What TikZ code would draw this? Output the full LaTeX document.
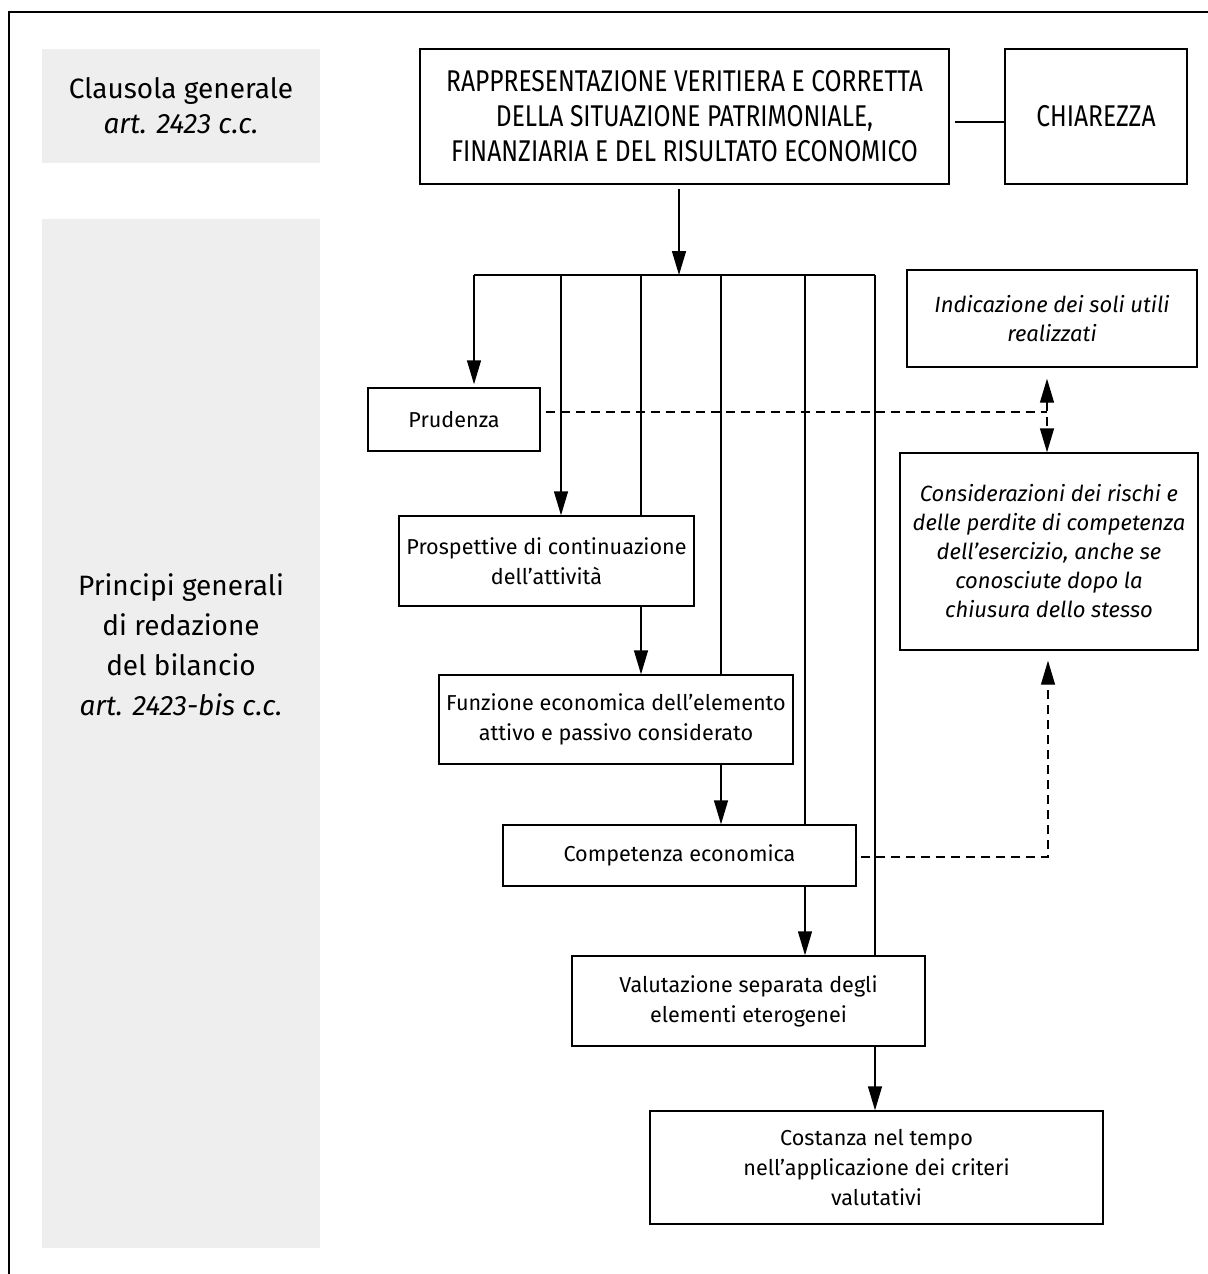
\documentclass[tikz,border=0pt]{standalone}
\usepackage{fontspec}
\setmainfont{Fira Sans}
\newfontfamily\capsfont[FakeStretch=0.82]{Fira Sans}
\usepackage{tikz}
\usetikzlibrary{arrows.meta, positioning, calc}
\definecolor{panelgray}{HTML}{EEEEEE}

\begin{document}
\begin{tikzpicture}[x=0.5pt, y=-0.5pt,
    ftip/.tip={Triangle[length=12pt, width=7pt]},
    panel/.style={fill=panelgray, draw=none, minimum width=139pt, minimum height=#1, inner sep=0pt},
    box/.style={draw, line width=0.7pt, align=center, inner sep=2pt, font=\fontsize{10.8}{15}\selectfont},
    ibox/.style={box, font=\fontsize{11}{14.5}\selectfont\itshape},
    capsbox/.style={box, font=\capsfont\fontsize{15}{17.5}\selectfont},
    flow/.style={-ftip, line width=0.7pt},
    link/.style={line width=0.7pt},
    dlink/.style={line width=0.7pt, dash pattern=on 4.5pt off 3pt},
]
    \useasboundingbox (0,0) rectangle (1208,1274);
    \draw[link] (1208,12) -- (9,12) -- (9,1274);

    % === left panels ===
    \node[panel=57pt, align=center, font=\fontsize{14}{17.5}\selectfont] (clausola) at (181,106)
        {Clausola generale\\\itshape art. 2423 c.c.};
    \node[panel=514.5pt] (principi) at (181,733.5) {};
    \node[align=center, font=\fontsize{14}{20}\selectfont] (principitxt) at (181,645)
        {Principi generali\\di redazione\\del bilancio\\\itshape art. 2423-bis c.c.};

    % === top row ===
    \node[capsbox, minimum width=264.5pt, minimum height=67.5pt] (rvc) at (684.5,116.5)
        {RAPPRESENTAZIONE VERITIERA E CORRETTA\\DELLA SITUAZIONE PATRIMONIALE,\\FINANZIARIA E DEL RISULTATO ECONOMICO};
    \node[capsbox, minimum width=91pt, minimum height=67.5pt] (chiar) at (1096,116.5) {CHIAREZZA};
    \draw[link, shorten <=2.5pt] ([yshift=-2.75pt]rvc.east) -- ([yshift=-2.75pt]chiar.west);

    % === principles ===
    \node[box, minimum width=86pt, minimum height=31.5pt] (prud) at (454,419.5) {Prudenza};
    \node[box, minimum width=147.5pt, minimum height=45pt] (prosp) at (546.5,561)
        {Prospettive di continuazione\\dell’attività};
    \node[box, minimum width=177pt, minimum height=44.5pt] (funz) at (616,719.5)
        {Funzione economica dell’elemento\\attivo e passivo considerato};
    \node[box, minimum width=176.5pt, minimum height=30.5pt] (comp) at (679.5,855.5) {Competenza economica};
    \node[box, minimum width=176.5pt, minimum height=45pt] (valut) at (748.5,1001)
        {Valutazione separata degli\\elementi eterogenei};
    \node[box, minimum width=226.5pt, minimum height=56.5pt] (cost) at (876.5,1167.5)
        {Costanza nel tempo\\nell’applicazione dei criteri\\valutativi};

    % === prudenza details ===
    \node[ibox, minimum width=145pt, minimum height=48.5pt] (indic) at (1052,318.5)
        {Indicazione dei soli utili\\realizzati};
    \node[ibox, minimum width=149pt, minimum height=98.5pt] (consid) at (1049,551.5)
        {Considerazioni dei rischi e\\delle perdite di competenza\\dell’esercizio, anche se\\conosciute dopo la\\chiusura dello stesso};

    % === bus ===
    \coordinate (bus) at (679,275);
    \coordinate (b1) at (474,275);
    \coordinate (b2) at (561,275);
    \coordinate (b3) at (641,275);
    \coordinate (b4) at (721,275);
    \coordinate (b5) at (805,275);
    \coordinate (b6) at (875,275);
    \draw[flow, shorten <=2pt] (rvc.south -| bus) -- (bus);
    \draw[link] (b1) -- (b6);

    \draw[flow, shorten >=1.5pt] (b1) -- (b1 |- prud.north);
    \draw[flow] (b2) -- (b2 |- prosp.north);
    \draw[link] (b3) -- (b3 |- prosp.north);
    \draw[flow] (b3 |- prosp.south) -- (b3 |- funz.north);
    \draw[link] (b4) -- (b4 |- funz.north);
    \draw[flow] (b4 |- funz.south) -- (b4 |- comp.north);
    \draw[link] (b5) -- (b5 |- comp.north);
    \draw[flow] (b5 |- comp.south) -- (b5 |- valut.north);
    \draw[link] (b6) -- (b6 |- valut.north);
    \draw[flow] (b6 |- valut.south) -- (b6 |- cost.north);

    % === dashed links ===
    \coordinate (dj) at (1047,412);
    \coordinate (dc) at (1048,857);
    \draw[dlink, shorten <=2.5pt] (prud.east |- dj) -- (dj);
    \draw[dlink, ftip-ftip, shorten <=5.5pt] (dj |- indic.south) -- (dj |- consid.north);
    \draw[dlink, -ftip, shorten <=2pt, shorten >=5pt] (comp.east |- dc) -- (dc) -- (dc |- consid.south);
\end{tikzpicture}
\end{document}
